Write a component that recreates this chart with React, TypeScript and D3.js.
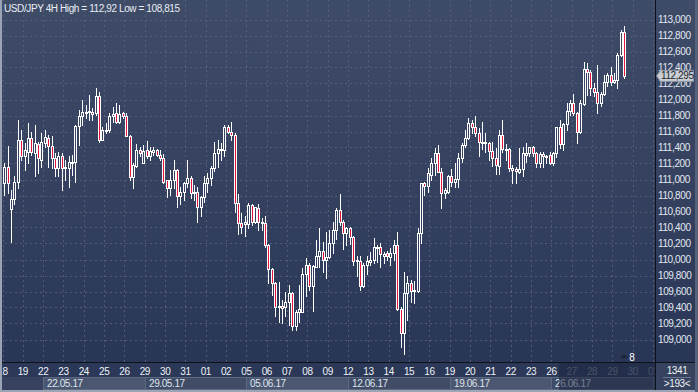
// App.tsx - USD/JPY 4H candlestick chart
import React from "react";
import * as d3 from "d3";

// 4H candles, 18.05.17 - 29.06.17
const opens = [
  110.95, 111.15, 110.63, 110.76, 110.965, 111.49, 111.29, 111.35, 111.515, 111.33,
  111.44, 111.24, 111.45, 111.515, 111.42, 111.27, 111.14, 111.3, 111.15, 111.14,
  111.21, 111.22, 111.67, 111.79, 111.84, 111.84, 111.85, 111.83, 112.04, 111.5,
  111.61, 111.62, 111.79, 111.83, 111.72, 111.83, 111.79, 111.54, 111.03, 111.17,
  111.37, 111.21, 111.37, 111.29, 111.35, 111.37, 111.31, 111.265, 110.99, 110.89,
  110.99, 111.12, 110.79, 110.84, 110.95, 111.015, 110.83, 110.85, 110.66, 110.78,
  110.96, 111.015, 111.14, 111.33, 111.37, 111.37, 111.65, 111.6, 111.56, 110.71,
  110.46, 110.44, 110.44, 110.68, 110.47, 110.64, 110.45, 110.45, 110.18, 109.88,
  109.7, 109.4, 109.42, 109.41, 109.47, 109.58, 109.17, 109.35, 109.35, 109.82,
  109.93, 109.67, 109.91, 110.04, 110.11, 110.0, 110.03, 110.2, 110.37, 110.62,
  110.47, 110.33, 110.39, 110.28, 109.98, 109.98, 109.67, 109.93, 109.97, 110.0,
  110.15, 110.15, 110.05, 110.08, 110.03, 110.08, 110.18, 109.38, 109.08, 109.58,
  109.7, 109.61, 109.61, 110.33, 110.95, 110.92, 111.06, 111.2, 111.33, 111.1,
  110.83, 110.84, 111.04, 110.97, 111.01, 111.265, 111.43, 111.515, 111.71, 111.66,
  111.58, 111.46, 111.45, 111.46, 111.36, 111.265, 111.17, 111.56, 111.38, 111.38,
  111.12, 111.13, 111.09, 111.13, 111.31, 111.33, 111.4, 111.33, 111.21, 111.315,
  111.29, 111.31, 111.21, 111.33, 111.65, 111.445, 111.69, 111.86, 111.96, 111.83,
  111.59, 111.94, 112.38, 112.34, 112.14, 112.1, 111.95, 112.07, 112.22, 112.31,
  112.22, 112.25, 112.56, 112.85,
];
const highs = [
  111.2, 111.42, 110.87, 111.04, 111.74, 111.62, 111.45, 111.7, 111.6, 111.68,
  111.47, 111.58, 111.62, 111.56, 111.54, 111.33, 111.35, 111.33, 111.24, 111.29,
  111.31, 111.68, 111.87, 111.99, 111.93, 112.06, 111.89, 112.14, 112.1, 111.66,
  111.7, 111.83, 111.91, 111.95, 111.93, 111.85, 111.83, 111.56, 111.2, 111.44,
  111.41, 111.43, 111.48, 111.41, 111.4, 111.38, 111.37, 111.32, 111.0, 111.12,
  111.24, 111.13, 110.91, 110.97, 111.24, 111.04, 110.93, 110.91, 110.79, 111.04,
  111.08, 111.17, 111.47, 111.49, 111.46, 111.68, 111.68, 111.72, 111.58, 110.82,
  110.58, 110.54, 110.7, 110.69, 110.66, 110.69, 110.52, 110.54, 110.19, 109.89,
  109.72, 109.72, 109.49, 109.6, 109.68, 109.59, 109.37, 109.68, 109.89, 110.02,
  109.95, 109.93, 110.24, 110.39, 110.22, 110.35, 110.37, 110.47, 110.64, 110.82,
  110.49, 110.41, 110.4, 110.29, 110.04, 110.04, 109.95, 110.04, 110.1, 110.27,
  110.18, 110.2, 110.1, 110.11, 110.14, 110.25, 110.34, 109.41, 109.85, 109.79,
  109.74, 109.73, 110.39, 110.96, 110.97, 111.14, 111.27, 111.39, 111.43, 111.14,
  110.89, 111.06, 111.13, 111.2, 111.33, 111.45, 111.62, 111.765, 111.745, 111.79,
  111.64, 111.72, 111.58, 111.47, 111.47, 111.39, 111.62, 111.74, 111.44, 111.39,
  111.18, 111.15, 111.39, 111.41, 111.45, 111.41, 111.42, 111.35, 111.35, 111.34,
  111.31, 111.34, 111.35, 111.66, 111.74, 111.7, 111.95, 111.99, 112.07, 111.85,
  111.99, 112.47, 112.45, 112.37, 112.2, 112.43, 112.1, 112.31, 112.33, 112.41,
  112.33, 112.58, 112.87, 112.92,
];
const lows = [
  110.81, 110.83, 110.22, 110.69, 110.89, 111.24, 111.12, 111.2, 111.31, 111.04,
  111.08, 111.16, 111.41, 111.15, 111.14, 111.04, 111.04, 110.87, 110.99, 110.91,
  111.06, 110.97, 111.43, 111.68, 111.77, 111.75, 111.74, 111.81, 111.47, 111.49,
  111.58, 111.6, 111.72, 111.7, 111.7, 111.77, 111.54, 110.99, 110.89, 111.15,
  111.29, 111.2, 111.27, 111.24, 111.31, 111.29, 111.24, 110.96, 110.78, 110.81,
  110.89, 110.66, 110.69, 110.74, 110.9, 110.77, 110.74, 110.47, 110.54, 110.72,
  110.85, 110.93, 111.11, 111.15, 111.25, 111.29, 111.58, 111.49, 110.59, 110.32,
  110.33, 110.29, 110.39, 110.43, 110.45, 110.37, 110.37, 110.16, 109.7, 109.56,
  109.29, 109.22, 109.21, 109.3, 109.18, 109.12, 109.12, 109.22, 109.34, 109.54,
  109.62, 109.36, 109.9, 109.91, 109.85, 109.77, 110.02, 110.08, 110.26, 110.43,
  110.13, 110.18, 110.19, 109.93, 109.79, 109.62, 109.65, 109.82, 109.93, 109.95,
  109.97, 109.91, 109.95, 109.99, 109.93, 109.99, 109.37, 108.91, 108.815, 109.25,
  109.47, 109.46, 109.6, 110.2, 110.81, 110.84, 110.99, 111.06, 111.09, 110.64,
  110.77, 110.83, 110.92, 110.9, 110.9, 111.22, 111.41, 111.51, 111.58, 111.54,
  111.29, 111.38, 111.35, 111.24, 111.17, 111.07, 111.065, 111.35, 111.24, 111.11,
  110.95, 110.96, 111.08, 111.04, 111.22, 111.29, 111.29, 111.16, 111.15, 111.16,
  111.2, 111.19, 111.18, 111.28, 111.39, 111.37, 111.62, 111.81, 111.81, 111.46,
  111.58, 111.93, 112.06, 112.06, 112.04, 111.83, 111.92, 112.06, 112.17, 112.18,
  112.2, 112.14, 112.54, 112.27,
];
const closes = [
  111.15, 110.95, 110.76, 110.965, 111.49, 111.29, 111.37, 111.515, 111.35, 111.45,
  111.27, 111.47, 111.53, 111.42, 111.27, 111.14, 111.3, 111.14, 111.14, 111.22,
  111.22, 111.67, 111.79, 111.85, 111.85, 111.86, 111.815, 112.04, 111.49, 111.62,
  111.62, 111.79, 111.815, 111.72, 111.815, 111.79, 111.54, 111.03, 111.18, 111.37,
  111.335, 111.36, 111.29, 111.36, 111.37, 111.31, 111.27, 110.97, 110.89, 110.99,
  111.12, 110.79, 110.84, 110.95, 111.015, 110.83, 110.85, 110.66, 110.78, 110.96,
  111.015, 111.14, 111.335, 111.38, 111.38, 111.65, 111.6, 111.56, 110.71, 110.46,
  110.4, 110.47, 110.68, 110.47, 110.65, 110.47, 110.47, 110.18, 109.88, 109.7,
  109.41, 109.42, 109.39, 109.47, 109.58, 109.17, 109.35, 109.38, 109.82, 109.93,
  109.67, 109.92, 110.04, 110.11, 110.0, 110.03, 110.2, 110.37, 110.62, 110.47,
  110.33, 110.39, 110.28, 109.98, 109.99, 109.67, 109.93, 109.98, 110.0, 110.15,
  110.16, 110.07, 110.07, 110.04, 110.08, 110.18, 109.38, 109.08, 109.58, 109.7,
  109.61, 109.62, 110.33, 110.95, 110.92, 111.08, 111.2, 111.33, 111.1, 110.83,
  110.87, 111.04, 110.97, 111.01, 111.265, 111.43, 111.515, 111.71, 111.66, 111.58,
  111.465, 111.47, 111.465, 111.36, 111.265, 111.18, 111.56, 111.38, 111.37, 111.14,
  111.14, 111.11, 111.13, 111.33, 111.33, 111.4, 111.33, 111.21, 111.315, 111.29,
  111.3, 111.21, 111.33, 111.65, 111.445, 111.69, 111.86, 111.96, 111.83, 111.59,
  111.96, 112.38, 112.34, 112.14, 112.1, 111.96, 112.07, 112.22, 112.31, 112.22,
  112.25, 112.56, 112.85, 112.295,
];

const dayLabels = [
  "18", "19", "22", "23", "24", "25", "26", "29", "30", "31", "01",
  "02", "05", "06", "07", "08", "09", "12", "13", "14", "15", "16",
  "19", "20", "21", "22", "23", "26", "27", "28", "29", "30", "01",
];
const weekLabels = ["22.05.17", "29.05.17", "05.06.17", "12.06.17", "19.06.17", "26.06.17"];
const weekStartDay = [2, 7, 12, 17, 22, 27];

const W = 698;
const H = 392;
const plotRight = 655;
const plotBottom = 362;
const barsPerDay = 6;
const font = "'Liberation Sans', Arial, sans-serif";
const red = "#e2163c";

const fmt = (v: number, d: number) => d3.format(`.${d}f`)(v).replace(".", ",");

export default function App() {
  const x = d3
    .scaleLinear()
    .domain([0, barsPerDay * 32])
    .range([2.5, 2.5 + 20.33 * 32]);
  const y = d3.scaleLinear().domain([109, 113]).range([339.5, 19.5]);
  const yTicks = d3.range(0, 21).map((i) => 109 + i * 0.2);
  const dayX = (d: number) => x(d * barsPerDay);
  const lastClose = closes[closes.length - 1];
  const ly = y(lastClose);

  return (
    <svg
      width={W}
      height={H}
      style={{ position: "absolute", left: 0, top: 0, display: "block" }}
      fontFamily={font}
    >
      <defs>
        <linearGradient id="bg" gradientUnits="userSpaceOnUse" x1="0" y1="0" x2="0" y2={plotBottom}>
          <stop offset="0" stopColor="#3f4c68" />
          <stop offset="1" stopColor="#2a3656" />
        </linearGradient>
        <clipPath id="plotClip">
          <rect x={0} y={0} width={plotRight} height={plotBottom} />
        </clipPath>
      </defs>

      {/* backgrounds */}
      <rect x={0} y={0} width={W} height={H} fill="url(#bg)" />
      <rect x={0} y={plotBottom} width={plotRight} height={15} fill="#2c3857" />
      <rect x={0} y={plotBottom + 15} width={plotRight} height={H - plotBottom - 15} fill="#36425e" />

      {/* grid */}
      <g stroke="#5a6681" strokeWidth={1} strokeDasharray="2,3" opacity={0.75}>
        {yTicks.map((t) => (
          <line key={"h" + t} x1={0} x2={plotRight} y1={Math.round(y(t)) + 0.5} y2={Math.round(y(t)) + 0.5} />
        ))}
        {dayLabels.map((_, d) => (
          <line key={"v" + d} x1={Math.round(dayX(d)) + 0.5} x2={Math.round(dayX(d)) + 0.5} y1={0} y2={plotBottom} />
        ))}
      </g>

      {/* candles */}
      <g clipPath="url(#plotClip)">
        {opens.map((o, i) => {
          const c = closes[i];
          const cx = Math.round(x(i + 0.5));
          const top = Math.round(y(Math.max(o, c)));
          const bot = Math.round(y(Math.min(o, c)));
          const bh = Math.max(2, bot - top + 1);
          const hy = Math.round(y(highs[i]));
          const lyw = Math.round(y(lows[i]));
          return (
            <g key={i}>
              <rect x={cx} y={hy} width={1} height={lyw - hy + 1} fill="#ffffff" />
              <rect x={cx - 1} y={top} width={3} height={bh} fill="#ffffff" />
              {bh > 2 && (
                <rect x={cx} y={top + 1} width={1} height={bh - 2} fill={c < o ? red : "url(#bg)"} />
              )}
            </g>
          );
        })}
      </g>

      {/* title */}
      <text x={4} y={12} fontSize={10} letterSpacing={-0.4} fill="#e8edf4">
        USD/JPY 4H High = 112,92 Low = 108,815
      </text>

      {/* small marker near bottom */}
      <path d="M620,358 L624,354 L628,358 Z" fill="#1d2538" />
      <text x={632} y={361} fontSize={10} textAnchor="middle" fill="#ffffff">
        8
      </text>

      {/* week boxes */}
      {weekStartDay.map((d, i) => {
        const x0 = Math.round(dayX(d));
        const x1 = Math.min(plotRight, Math.round(dayX(d + 5)));
        return (
          <g key={"w" + i}>
            <rect
              x={x0 + 0.5}
              y={377.5}
              width={x1 - x0}
              height={12}
              fill={i % 2 === 0 ? "#4b5770" : "#404c66"}
              stroke="#5d6881"
            />
            <text x={x0 + 4} y={387} fontSize={10} letterSpacing={-0.4} fill="#dfe5ee">
              {weekLabels[i]}
            </text>
          </g>
        );
      })}

      {/* day labels */}
      {dayLabels.map((l, d) => (
        <text
          key={"d" + d}
          x={dayX(d)}
          y={375}
          fontSize={10}
          letterSpacing={-0.4}
          textAnchor="middle"
          fill={d >= 28 ? "#7e8799" : "#eef2f7"}
        >
          {l}
        </text>
      ))}

      {/* scroll overlay at the right of the time axis */}
      <rect x={559} y={plotBottom + 1} width={plotRight - 559} height={H - plotBottom - 3} fill="#1e2740" opacity={0.55} />

      {/* right price axis */}
      <rect x={plotRight} y={0} width={W - plotRight} height={plotBottom} fill="url(#bg)" />
      {yTicks.map((t) => (
        <text key={"y" + t} x={658} y={y(t) + 3.5} fontSize={10} letterSpacing={-0.4} fill="#e3e9f2">
          {fmt(t, 3)}
        </text>
      ))}

      {/* last price marker */}
      <path
        d={`M656.5,${ly} L660.5,${ly - 5.5} L693.5,${ly - 5.5} L693.5,${ly + 5.5} L660.5,${ly + 5.5} Z`}
        fill="#c9cdd4"
        stroke="#8b93a3"
      />
      <text x={661} y={ly + 3.5} fontSize={10} letterSpacing={-0.4} fill="#1a1f2b">
        {fmt(lastClose, 3)}
      </text>

      {/* bottom-right info box */}
      <rect x={plotRight} y={plotBottom} width={W - plotRight} height={H - plotBottom} fill="#36425e" />
      <text x={677} y={374} fontSize={10} letterSpacing={-0.4} textAnchor="middle" fill="#f0f3f7">
        1341
      </text>
      <line x1={663} x2={691} y1={377.5} y2={377.5} stroke="#6a7590" />
      <text x={677} y={387} fontSize={10} letterSpacing={-0.4} textAnchor="middle" fill="#f0f3f7">
        {">193<"}
      </text>

      {/* separators and frame */}
      <rect x={plotRight} y={0} width={1} height={H} fill="#0e121b" />
      <rect x={0} y={plotBottom} width={W} height={1} fill="#0e121b" />
      <rect x={0} y={0} width={2} height={H} fill="#9ba4b4" />
      <rect x={0} y={H - 2} width={W} height={2} fill="#9ba4b4" />
      <rect x={W - 3} y={0} width={3} height={H} fill="#56617a" />
    </svg>
  );
}
